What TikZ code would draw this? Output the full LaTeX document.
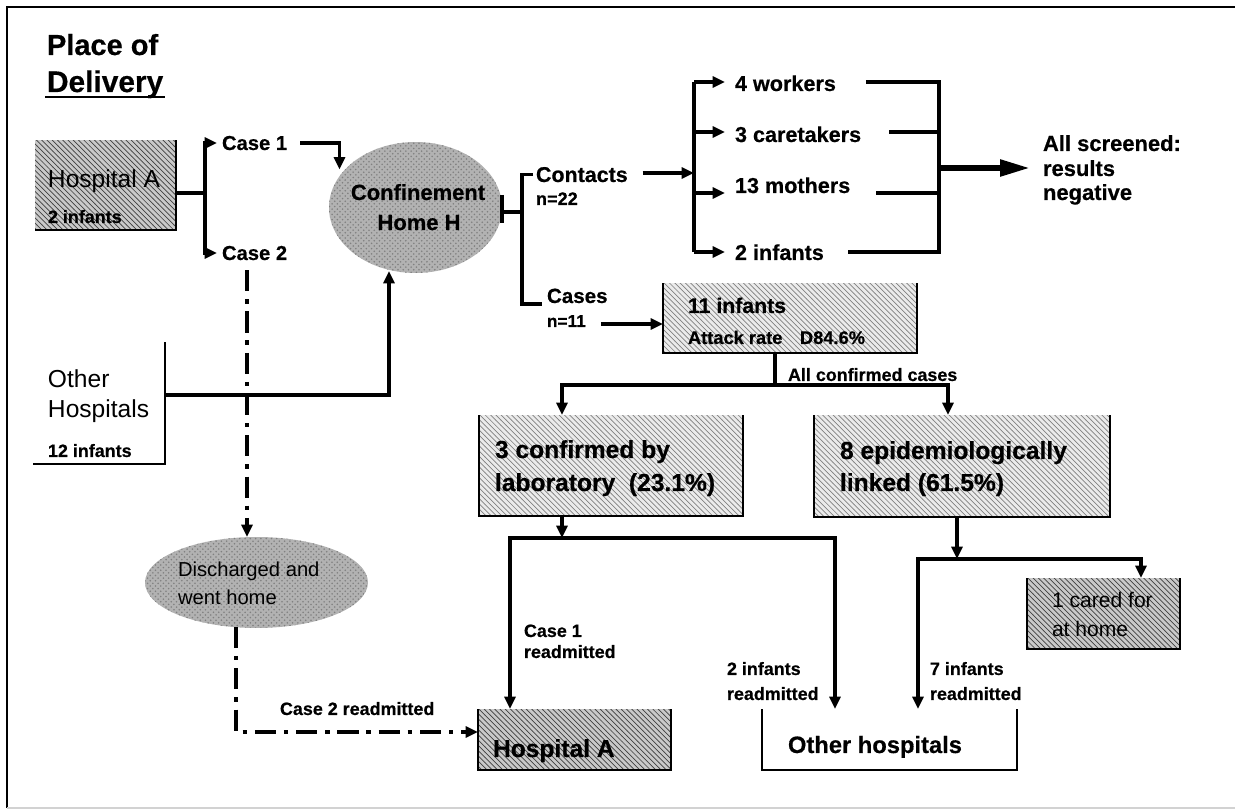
\documentclass[tikz,border=0pt]{standalone}
\usepackage{fontspec}
\setmainfont{Liberation Sans}[BoldFeatures={FakeBold=0.5}]
\usetikzlibrary{arrows.meta,calc,patterns,shapes.geometric}
\newcommand{\fsz}[1]{\fontsize{#1pt}{#1pt}\selectfont}
\begin{document}
\begin{tikzpicture}[x=0.02cm,y=-0.02cm,
  >={Triangle[length=7pt,width=6.2pt]},
  t/.style={anchor=base west,inner sep=0,outer sep=0},
  tc/.style={anchor=base,inner sep=0,outer sep=0},
  ln/.style={line width=2pt},
  dd/.style={line width=2.2pt,dash pattern=on 12pt off 4.5pt on 2.5pt off 4.5pt},
  bigarrow/.style={line width=3.2pt,-{Triangle[length=17pt,width=9pt]}},
  lbox/.style={rectangle,inner sep=0,outer sep=0,fill=gray!16,
     postaction={pattern=north west lines,pattern color=black!50}},
  dbox/.style={rectangle,inner sep=0,outer sep=0,fill=gray!42,
     postaction={pattern=north west lines,pattern color=black!75}},
  wbox/.style={rectangle,inner sep=0,outer sep=0},
  blob/.style={ellipse,inner sep=0,outer sep=0,fill=gray!60,
     postaction={pattern=crosshatch dots,pattern color=black!50}},
  edge/.style={line width=1.4pt},
  thinedge/.style={line width=1pt}]
\useasboundingbox (0,0) rectangle (1235,810);
% frame
\draw[line width=1.3pt] (7,808) -- (7,7) -- (1236,7);
\draw[gray!35,line width=1pt] (7,808) -- (1236,808);

% ---------- boxes and ellipses ----------
\node[dbox,minimum width=2.82cm,minimum height=1.8cm] (hospA) at (105.5,185) {};
\draw[edge] (hospA.south west) -- (hospA.south east) -- (hospA.north east);
\node[wbox,minimum width=2.64cm,minimum height=2.44cm] (othH) at (99,403) {};
\draw[edge] (othH.north east) -- (othH.south east) -- (othH.south west);
\node[blob,minimum width=3.46cm,minimum height=2.62cm] (conf) at (415.5,207.5) {};
\node[lbox,minimum width=5.08cm,minimum height=1.4cm] (inf11) at (790,318) {};
\draw[edge] (inf11.north west) |- (inf11.south east) -- (inf11.north east);
\node[lbox,minimum width=5.28cm,minimum height=2.02cm] (conf3) at (611,465.5) {};
\draw[edge] (conf3.north west) |- (conf3.south east) -- (conf3.north east);
\node[lbox,minimum width=5.92cm,minimum height=2.04cm] (epi) at (962,466) {};
\draw[edge] (epi.north west) |- (epi.south east) -- (epi.north east);
\node[blob,minimum width=4.46cm,minimum height=1.82cm] (disc) at (256.5,582.5) {};
\node[dbox,minimum width=3.86cm,minimum height=1.22cm] (hospA2) at (574.5,739.5) {};
\draw[edge] (hospA2.north west) |- (hospA2.south east) -- (hospA2.north east);
\node[wbox,minimum width=5.1cm,minimum height=1.22cm] (othHosp2) at (889.5,739.5) {};
\draw[thinedge] (othHosp2.north west) |- (othHosp2.south east) -- (othHosp2.north east);
\node[dbox,minimum width=3.06cm,minimum height=1.42cm] (cared) at (1103.5,613.5) {};
\draw[edge] (cared.north west) |- (cared.south east) -- (cared.north east);

% ---------- texts ----------
\node[t,font=\fsz{16.5}\bfseries] (place) at (47,55) {Place of};
\node[t,font=\fsz{17}\bfseries] (deliv) at (47,92) {Delivery};
\draw[line width=1.3pt] ($(deliv.base west)+(-2,5)$) -- ($(deliv.base east)+(2,5)$);
\node[t,font=\fsz{14}] (hAt) at (48,188) {Hospital A};
\node[t,font=\fsz{10.2}\bfseries] (hAn) at (48,223) {2 infants};
\node[t,font=\fsz{11.5}\bfseries] (case1) at (222,150) {Case 1};
\node[t,font=\fsz{11.5}\bfseries] (case2) at (222,260) {Case 2};
\node[tc,font=\fsz{12.5}\bfseries] (confa) at (418,200) {Confinement};
\node[tc,font=\fsz{12.5}\bfseries] (confb) at (419,230) {Home H};
\node[t,font=\fsz{12.2}\bfseries] (contacts) at (536,182) {Contacts};
\node[t,font=\fsz{10.3}\bfseries] (n22) at (536,205) {n=22};
\node[t,font=\fsz{11.7}\bfseries] (cases) at (547,303) {Cases};
\node[t,font=\fsz{9.8}\bfseries] (n11) at (547,327) {n=11};
\node[t,font=\fsz{12.3}\bfseries] (w4) at (735,91) {4 workers};
\node[t,font=\fsz{12.3}\bfseries] (car) at (735,142) {3 caretakers};
\node[t,font=\fsz{12.3}\bfseries] (mom) at (735,193) {13 mothers};
\node[t,font=\fsz{12.3}\bfseries] (inf2) at (735,260) {2 infants};
\node[t,font=\fsz{12.5}\bfseries] (scr) at (1043,151) {All screened:};
\node[t,font=\fsz{12.5}\bfseries] (res) at (1043,176) {results};
\node[t,font=\fsz{12.5}\bfseries] (neg) at (1043,200) {negative};
\node[t,font=\fsz{12.1}\bfseries] (i11) at (688,313) {11 infants};
\node[t,font=\fsz{10.4}\bfseries] (atk) at (688,344) {Attack rate\hspace{10pt}D84.6\%};
\node[t,font=\fsz{10.2}\bfseries] (allc) at (788,381) {All confirmed cases};
\node[t,font=\fsz{14}\bfseries] (c3a) at (495,458) {3 confirmed by};
\node[t,font=\fsz{14}\bfseries] (c3b) at (495,491) {laboratory\ \ (23.1\%)};
\node[t,font=\fsz{14}\bfseries] (e8a) at (840,459) {8 epidemiologically};
\node[t,font=\fsz{14}\bfseries] (e8b) at (840,491) {linked (61.5\%)};
\node[t,font=\fsz{14}] (oha) at (48,388) {Other};
\node[t,font=\fsz{14}] (ohb) at (48,418) {Hospitals};
\node[t,font=\fsz{10.2}\bfseries] (ohc) at (48,457) {12 infants};
\node[t,font=\fsz{11.5}] (dA) at (178,577) {Discharged and};
\node[t,font=\fsz{11.5}] (dB) at (178,605) {went home};
\node[t,font=\fsz{10.2}\bfseries] (r1a) at (524,637) {Case 1};
\node[t,font=\fsz{10.2}\bfseries] (r1b) at (524,658) {readmitted};
\node[t,font=\fsz{10.2}\bfseries] (r2) at (280,715) {Case 2 readmitted};
\node[t,font=\fsz{14}\bfseries] (hA2t) at (493,757) {Hospital A};
\node[t,font=\fsz{10.2}\bfseries] (i2a) at (727,675) {2 infants};
\node[t,font=\fsz{10.2}\bfseries] (i2b) at (727,700) {readmitted};
\node[t,font=\fsz{10.2}\bfseries] (i7a) at (930,675) {7 infants};
\node[t,font=\fsz{10.2}\bfseries] (i7b) at (930,700) {readmitted};
\node[t,font=\fsz{13.5}\bfseries] (ohT) at (788,753) {Other hospitals};
\node[t,font=\fsz{12}] (cfa) at (1052,608) {1 cared for};
\node[t,font=\fsz{12}] (cfb) at (1052,637) {at home};

% ---------- junction coordinates ----------
\coordinate (bA) at (205,193);
\coordinate (bB) at (522,212);
\coordinate (bC) at (694,173);
\coordinate (cTop) at (694,82);
\coordinate (c2) at (694,132);
\coordinate (c3) at (694,193);
\coordinate (cBot) at (694,252);
\coordinate (dTop) at (939,82);
\coordinate (d2) at (939,132);
\coordinate (d3) at (939,193);
\coordinate (dBot) at (939,252);
\coordinate (d4) at (939,168);
\coordinate (e1) at (775,385);
\coordinate (f1) at (562,538);
\coordinate (g1) at (957,559);

% ---------- connectors ----------
\draw[ln] (hospA.east |- bA) -- (bA);
\draw[ln,<->] ($(case1.west)+(-5,0)$) -| (bA) |- ($(case2.west)+(-5,0)$);
\draw[ln,->] ($(case1.east)+(13,0)$) -| ($(conf.center)+(-76,-38)$);
\draw[dd,->] ($(case2.south west)+(25,10)$) -- ($(disc.north)+(-9.5,0)$);
\draw[dd,->] ($(disc.south)+(-20.5,-1)$) |- ($(hospA2.west)+(0,-7.5)$);
\draw[ln,->] ($(othH.east)+(0,-8)$) -| ($(conf.south)+(-26.5,-2)$);

\draw[ln] ($(conf.east)+(0,-12.5)$) -- ($(conf.east)+(0,15.5)$);
\draw[ln] ($(conf.east)+(0,4.5)$) -- (bB);
\draw[ln] ($(contacts.west)+(-3,0)$) -| (bB) |- ($(cases.west)+(-5,8)$);

\draw[ln,->] ($(bC -| contacts.east)+(15,0)$) -- (bC);
\draw[ln] (cTop) -- (cBot);
\draw[ln,->] (cTop) -- ($(cTop -| w4.west)+(-10,0)$);
\draw[ln,->] (c2) -- ($(c2 -| car.west)+(-10,0)$);
\draw[ln,->] (c3) -- ($(c3 -| mom.west)+(-10,0)$);
\draw[ln,->] (cBot) -- ($(cBot -| inf2.west)+(-10,0)$);

\draw[ln] ($(dTop -| w4.east)+(30,0)$) -- (dTop) -- (dBot) -- ($(dBot -| inf2.east)+(24,0)$);
\draw[ln] ($(d2 -| car.east)+(28,0)$) -- (d2);
\draw[ln] ($(d3 -| mom.east)+(26,0)$) -- (d3);
\draw[bigarrow] (d4) -- ($(d4 -| scr.west)+(-13,0)$);

\draw[ln,->] ($(n11.east |- inf11.west)+(15,6)$) -- ($(inf11.west)+(0,6)$);
\draw[ln] ($(inf11.south)+(-15,0)$) -- (e1);
\draw[ln,->] (e1) -| ($(conf3.north)+(-49,0)$);
\draw[ln,->] (e1) -| ($(epi.north)+(-14,0)$);

\draw[ln,->] ($(conf3.south)+(-49,0)$) -- (f1);
\draw[ln,->] (f1) -| ($(hospA2.north)+(-64.5,0)$);
\draw[ln,->] (f1) -| ($(othHosp2.north)+(-54.5,0)$);

\draw[ln,->] ($(epi.south)+(-5,0)$) -- (g1);
\draw[ln,->] (g1) -| ($(othHosp2.north)+(28.5,0)$);
\draw[ln,->] (g1) -| ($(cared.north)+(37.5,0)$);
\end{tikzpicture}
\end{document}
